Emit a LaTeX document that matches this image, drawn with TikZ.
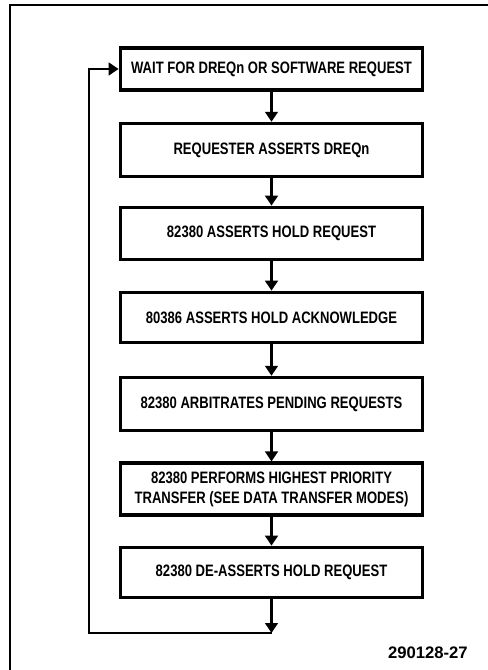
\documentclass[tikz,border=0pt]{standalone}
\usepackage{fontspec}
\setmainfont{Liberation Sans}
\usepackage{graphicx}
\usetikzlibrary{arrows.meta}
\newcommand\sqz[1]{\scalebox{0.79}[1]{#1}}
\tikzset{
  stepbox/.style={draw, line width=2.3pt, minimum width=227pt, inner sep=0pt,
    font=\bfseries\fontsize{12.4}{15}\selectfont, align=center},
  conn/.style={line width=2.1pt, -{Triangle[length=7.5pt,width=9.5pt]}},
  frameline/.style={line width=0.9pt}
}
\begin{document}
\begin{tikzpicture}[x=0.75pt,y=-0.75pt]
\useasboundingbox (0,0) rectangle (487,670);
\draw[frameline] (10,671) -- (10,5) -- (488,5);
\node[stepbox, minimum height=31.5pt] (b1) at (271.5,69) {\sqz{WAIT FOR DREQn OR SOFTWARE REQUEST}};
\node[stepbox, minimum height=40pt] (b2) at (271.5,150) {\sqz{REQUESTER ASSERTS DREQn}};
\node[stepbox, minimum height=39.5pt] (b3) at (271.5,233.5) {\sqz{82380 ASSERTS HOLD REQUEST}};
\node[stepbox, minimum height=38pt] (b4) at (271.5,317.5) {\sqz{80386 ASSERTS HOLD ACKNOWLEDGE}};
\node[stepbox, minimum height=40pt] (b5) at (271.5,404) {\sqz{82380 ARBITRATES PENDING REQUESTS}};
\node[stepbox, minimum height=39pt] (b6) at (271.5,489) {\sqz{\begin{tabular}{@{}c@{}}82380 PERFORMS HIGHEST PRIORITY\\TRANSFER (SEE DATA TRANSFER MODES)\end{tabular}}};
\node[stepbox, minimum height=38pt] (b7) at (271.5,572.5) {\sqz{82380 DE-ASSERTS HOLD REQUEST}};
\draw[conn] (b1) -- (b2);
\draw[conn] (b2) -- (b3);
\draw[conn] (b3) -- (b4);
\draw[conn] (b4) -- (b5);
\draw[conn] (b5) -- (b6);
\draw[conn] (b6) -- (b7);
\coordinate (lb) at (271.5,633);
\coordinate (lc) at (89,633);
\draw[conn] (b7) -- (lb);
\draw[conn] (lb) -- (lc) |- (b1.west);
\node[anchor=east, font=\bfseries\fontsize{12.5}{14}\selectfont, inner sep=0pt] (lab) at (468,653) {290128-27};
\end{tikzpicture}
\end{document}
